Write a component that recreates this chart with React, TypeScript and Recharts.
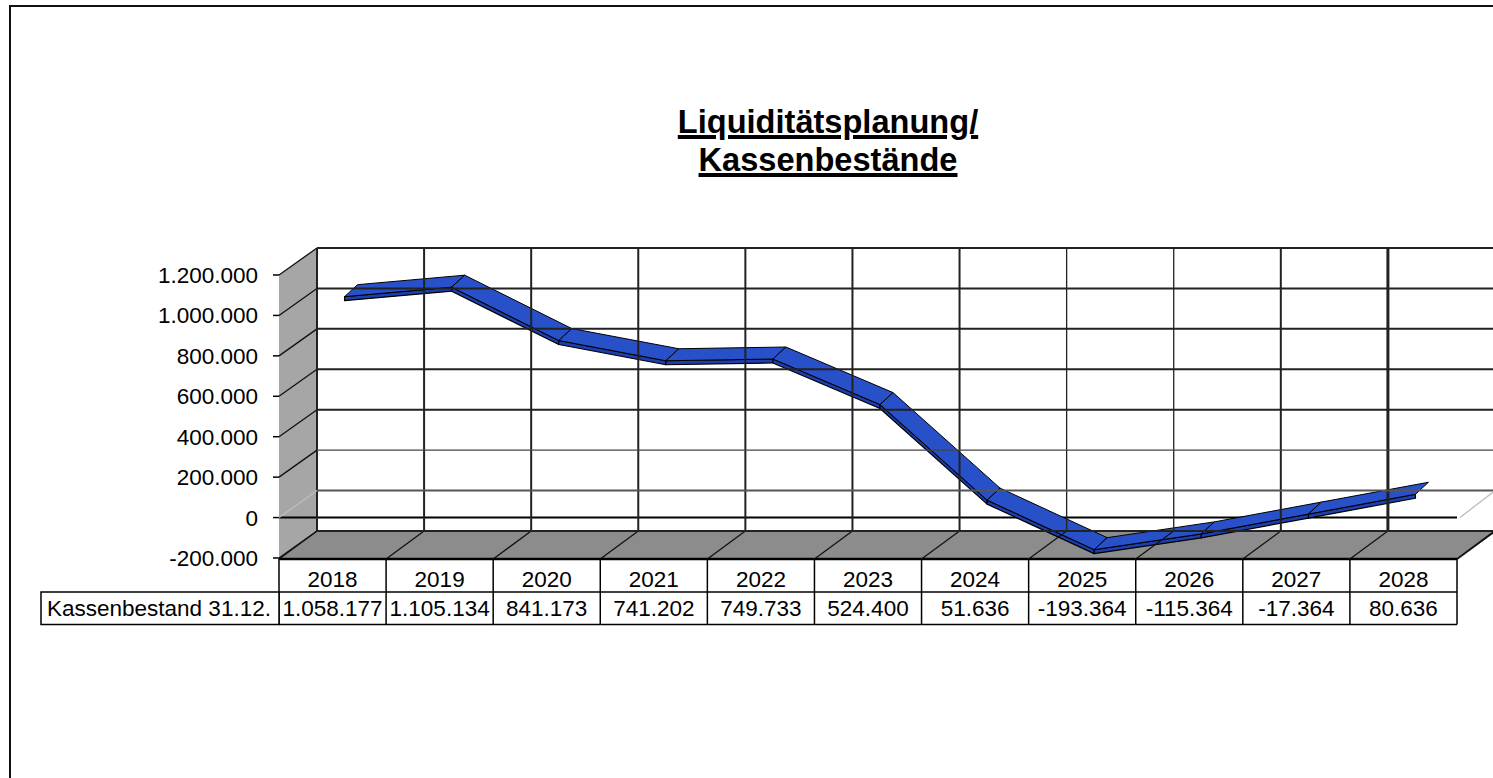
import { useState } from "react";
import {
  ComposedChart,
  Line,
  XAxis,
  YAxis,
  ReferenceArea,
  ReferenceLine,
} from "recharts";

const years = ["2018", "2019", "2020", "2021", "2022", "2023", "2024", "2025", "2026", "2027", "2028"];
const balances = [1058177, 1105134, 841173, 741202, 749733, 524400, 51636, -193364, -115364, -17364, 80636];
const yTicks = [-200000, 0, 200000, 400000, 600000, 800000, 1000000, 1200000];
const rowLabel = "Kassenbestand 31.12.";

const data = years.map((year, i) => ({ year, balance: balances[i] }));

// projection of the fake 3D box, in pixels
const DEPTH_X = 38;
const DEPTH_Y = 27;
const PLOT_LEFT = 279;
const PLOT_RIGHT = 1457;
const PLOT_TOP = 275;
const PLOT_BOTTOM = 558;
const CELL = (PLOT_RIGHT - PLOT_LEFT) / years.length;
const FONT = "'Liberation Sans', Arial, sans-serif";

const fmt = (v: number) => v.toLocaleString("de-DE");

function YTick({ x, y, payload }: any) {
  const isZero = payload.value === 0;
  const isFaint = payload.value === 200000;
  const left = x + 8;
  return (
    <g>
      <text x={x - 13} y={y + 8} textAnchor="end" fontSize={22.5} fontFamily={FONT} fill="#000">
        {fmt(payload.value)}
      </text>
      <line x1={left - 6} x2={left} y1={y} y2={y} stroke="#000" strokeWidth={1.5} />
      <line x1={left} y1={y} x2={left + DEPTH_X} y2={y - DEPTH_Y} stroke={isZero ? "#bdbdbd" : "#111"} strokeWidth={1.3} />
      <line
        x1={left + DEPTH_X}
        y1={y - DEPTH_Y}
        x2={1500}
        y2={y - DEPTH_Y}
        stroke={isZero ? "#555" : isFaint ? "#444" : "#222"}
        strokeWidth={isFaint ? 1.3 : 2}
      />
      {isZero && (
        <line x1={PLOT_RIGHT + 3} y1={y} x2={PLOT_RIGHT + DEPTH_X} y2={y - DEPTH_Y} stroke="#bdbdbd" strokeWidth={1.3} />
      )}
    </g>
  );
}

function XTick({ payload, index }: any) {
  const x = PLOT_LEFT + CELL * (index + 0.5);
  const left = x - CELL / 2;
  const right = x + CELL / 2;
  const top = PLOT_BOTTOM + 1;
  const isFirst = index === 0;
  const isLast = index === years.length - 1;
  // the picture's back wall lines are not all equally heavy
  const gridWidth = index === 10 ? 3 : index === 7 || index === 8 ? 1.3 : 2;
  return (
    <g fontFamily={FONT} fontSize={22.5} fill="#000">
      {/* back wall vertical and floor diagonal */}
      <line x1={left + DEPTH_X} y1={PLOT_TOP - DEPTH_Y} x2={left + DEPTH_X} y2={PLOT_BOTTOM - DEPTH_Y} stroke="#222" strokeWidth={gridWidth} />
      <line x1={left} y1={top} x2={left + DEPTH_X} y2={PLOT_BOTTOM - DEPTH_Y} stroke="#111" strokeWidth={1.3} />
      {isLast && (
        <>
          <line x1={right + DEPTH_X} y1={PLOT_TOP - DEPTH_Y} x2={right + DEPTH_X} y2={PLOT_BOTTOM - DEPTH_Y} stroke="#222" strokeWidth={2} />
          <line x1={right} y1={top} x2={right + DEPTH_X} y2={PLOT_BOTTOM - DEPTH_Y} stroke="#111" strokeWidth={2} />
          <line x1={right} y1={top} x2={right} y2={624.5} stroke="#000" strokeWidth={1.5} />
        </>
      )}
      <line x1={left} y1={top} x2={left} y2={624.5} stroke="#000" strokeWidth={1.5} />
      <line x1={left} y1={top} x2={right} y2={top} stroke="#000" strokeWidth={2.5} />
      <line x1={left} y1={592} x2={right} y2={592} stroke="#000" strokeWidth={1.5} />
      <line x1={left} y1={624.5} x2={right} y2={624.5} stroke="#000" strokeWidth={1.5} />
      <text x={x} y={586.5} textAnchor="middle">{payload.value}</text>
      <text x={x} y={616} textAnchor="middle">{fmt(balances[index])}</text>
      {isFirst && (
        <>
          <rect x={41} y={592} width={left - 41} height={32.5} fill="#fff" stroke="#000" strokeWidth={1.5} />
          <text x={47} y={616}>{rowLabel}</text>
        </>
      )}
    </g>
  );
}

function BoxShape({ x, y, height }: any) {
  const b = y + height;
  const w = PLOT_RIGHT - PLOT_LEFT;
  return (
    <g>
      <polygon
        points={`${x},${y} ${x + DEPTH_X},${y - DEPTH_Y} ${x + DEPTH_X},${b - DEPTH_Y} ${x},${b}`}
        fill="#a6a6a6"
      />
      <polygon
        points={`${x},${b} ${x + w},${b} ${x + w + DEPTH_X},${b - DEPTH_Y} ${x + DEPTH_X},${b - DEPTH_Y}`}
        fill="#8c8c8c"
      />
    </g>
  );
}

// ribbon edges sit part way into the box depth
const FRONT = { dx: 12, dy: -7 };
const BACK = { dx: 25, dy: -19 };
const THICK = 4;

function makeRibbonDot() {
  let prev: { x: number; y: number } | null = null;
  return function RibbonDot({ cx, cy, index }: any) {
    const last = prev;
    prev = { x: cx, y: cy };
    if (index === 0 || !last) return <g key={index} />;
    const f1 = [last.x + FRONT.dx, last.y + FRONT.dy];
    const f2 = [cx + FRONT.dx, cy + FRONT.dy];
    const b1 = [last.x + BACK.dx, last.y + BACK.dy];
    const b2 = [cx + BACK.dx, cy + BACK.dy];
    return (
      <g key={index}>
        <polygon
          points={`${f1[0]},${f1[1]} ${f2[0]},${f2[1]} ${f2[0]},${f2[1] + THICK} ${f1[0]},${f1[1] + THICK}`}
          fill="#1d3fae"
          stroke="#000"
          strokeWidth={1.2}
          strokeLinejoin="round"
        />
        <polygon
          points={`${f1[0]},${f1[1]} ${f2[0]},${f2[1]} ${b2[0]},${b2[1]} ${b1[0]},${b1[1]}`}
          fill="#2850c8"
          stroke="#000"
          strokeWidth={1}
          strokeLinejoin="round"
        />
      </g>
    );
  };
}

export default function App() {
  const [ribbonDot] = useState(() => makeRibbonDot());
  return (
    <div style={{ position: "absolute", left: 0, top: 0, width: 1493, height: 778, overflow: "hidden", background: "#fff" }}>
      <div style={{ position: "absolute", left: 9, top: 5, width: 1600, height: 900, border: "2px solid #111" }} />
      <div
        style={{
          position: "absolute",
          left: 528,
          top: 103,
          width: 600,
          textAlign: "center",
          fontFamily: FONT,
          fontWeight: "bold",
          fontSize: 32.6,
          lineHeight: "38px",
          textDecoration: "underline",
          textDecorationThickness: 4,
          color: "#000",
        }}
      >
        Liquiditätsplanung/
        <br />
        Kassenbestände
      </div>
      <ComposedChart
        width={1493}
        height={778}
        data={data}
        margin={{ left: 0, right: 1493 - PLOT_RIGHT, top: PLOT_TOP, bottom: 0 }}
        style={{ position: "absolute", left: 0, top: 0 }}
      >
        <ReferenceArea y1={-200000} y2={1200000} shape={BoxShape} ifOverflow="visible" />
        <XAxis dataKey="year" scale="band" interval={0} axisLine={false} tickLine={false} tick={XTick} height={778 - PLOT_BOTTOM} />
        <YAxis
          domain={[-200000, 1200000]}
          ticks={yTicks}
          interval={0}
          axisLine={false}
          tickLine={false}
          width={PLOT_LEFT}
          tick={YTick}
        />
        <ReferenceLine y={0} stroke="#000" strokeWidth={2} ifOverflow="visible" />
        <Line
          dataKey="balance"
          stroke="none"
          isAnimationActive={false}
          dot={ribbonDot}
          activeDot={false}
        />
      </ComposedChart>
    </div>
  );
}
